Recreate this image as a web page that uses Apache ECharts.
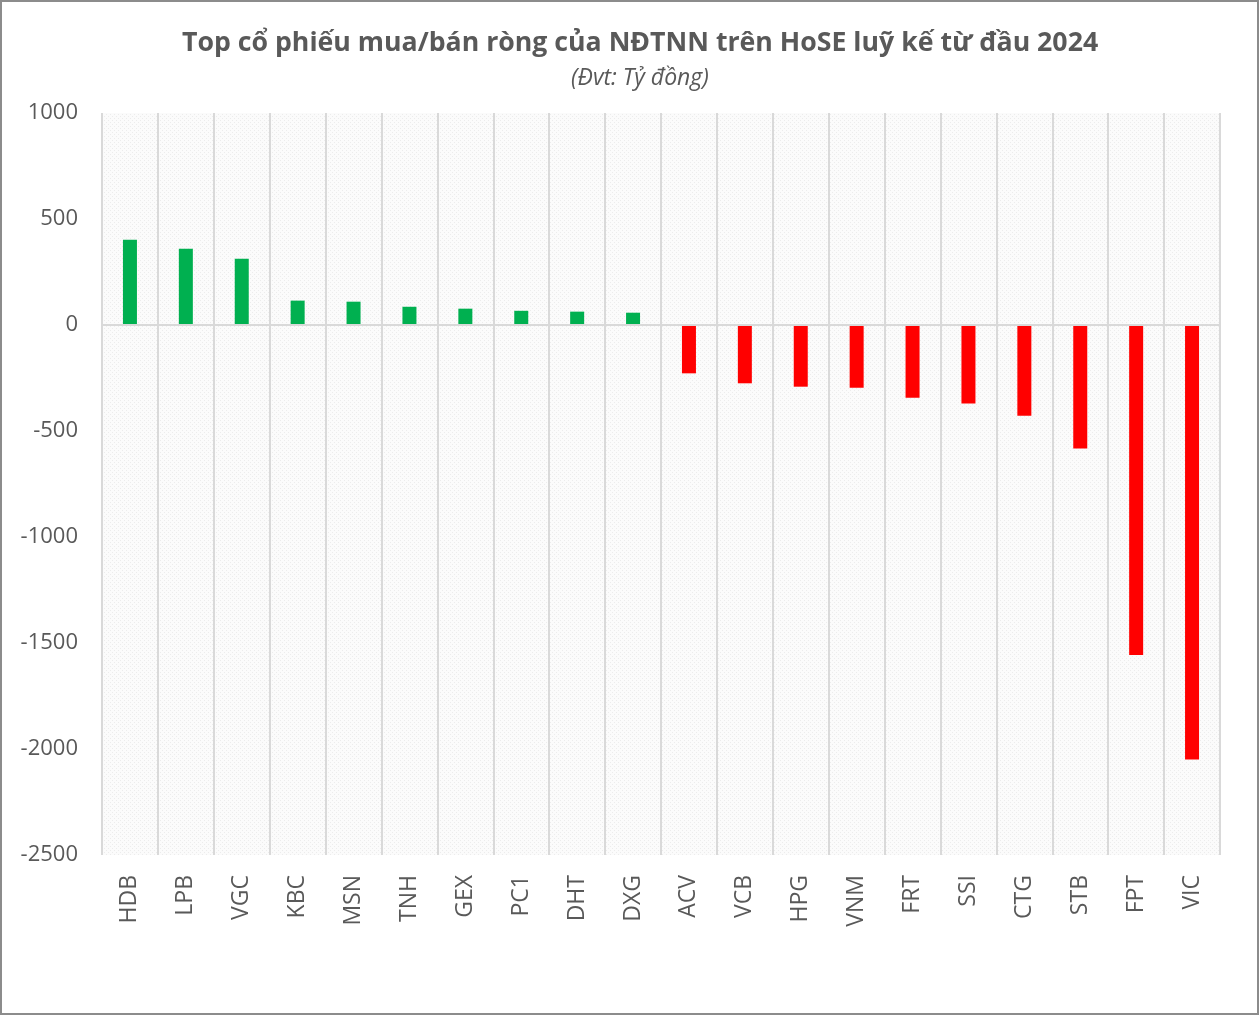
<!DOCTYPE html>
<html>
<head>
<meta charset="utf-8">
<script src="https://cdn.jsdelivr.net/npm/echarts@6/dist/echarts.min.js"></script>
<style>
  html, body { margin: 0; padding: 0; background: #fff; }
  #chart { width: 1260px; height: 1016px; }
</style>
</head>
<body>
<div id="chart"></div>
<script>
// stock tickers, net buy (+) / net sell (-) in billion VND
var tickers = ['HDB', 'LPB', 'VGC', 'KBC', 'MSN', 'TNH', 'GEX', 'PC1', 'DHT', 'DXG',
               'ACV', 'VCB', 'HPG', 'VNM', 'FRT', 'SSI', 'CTG', 'STB', 'FPT', 'VIC'];
var netValues = [402, 360, 313, 115, 110, 86, 77, 67, 63, 58,
                 -228, -275, -291, -296, -343, -370, -428, -582, -1557, -2049];
var yTicks = { min: -2500, max: 1000, step: 500 };

var titleText = 'Top cổ phiếu mua/bán ròng của NĐTNN trên HoSE luỹ kế từ đầu 2024';
var subText = '(Đvt: Tỷ đồng)';

//light dotted fill like the excel plot area
var pat = document.createElement('canvas');
pat.width = 4; pat.height = 4;
var pc = pat.getContext('2d');
pc.fillStyle = '#fbfbfb';
pc.fillRect(0, 0, 4, 4);
pc.fillStyle = '#ececec';
pc.fillRect(0, 0, 1, 1);
pc.fillRect(2, 2, 1, 1);

var chart = echarts.init(document.getElementById('chart'));

var option = {
    backgroundColor: '#ffffff',
    animation: false,
    title: [{
        text: titleText,
        left: 177,
        top: 25,
        textStyle: {
            fontFamily: 'Open Sans',
            fontWeight: 'bold',
            fontSize: 26.7,
            color: '#595959'
        }
    }, {
        text: subText,
        left: 566,
        top: 62,
        textStyle: {
            fontFamily: 'Open Sans',
            fontStyle: 'italic',
            fontWeight: 'normal',
            fontSize: 23,
            color: '#595959'
        }
    }],
    grid: {
        left: 102,
        right: 40,
        top: 113,
        bottom: 161,
        show: true,
        borderWidth: 0,
        backgroundColor: { image: pat, repeat: 'repeat' }
    },
    xAxis: {
        type: 'category',
        data: tickers,
        position: 'bottom',
        axisLine: { show: false },
        axisTick: { show: false },
        splitLine: { show: true, interval: 0, lineStyle: { color: '#d9d9d9', width: 2 } },
        axisLabel: {
            interval: 0,
            rotate: 90,
            margin: 20,
            fontFamily: 'Open Sans',
            fontSize: 23,
            color: '#595959'
        }
    },
    yAxis: {
        type: 'value',
        min: yTicks.min,
        max: yTicks.max,
        interval: yTicks.step,
        axisLine: { show: false },
        axisTick: { show: false },
        splitLine: { show: false },
        axisLabel: {
            margin: 24,
            fontFamily: 'Open Sans',
            fontSize: 22,
            color: '#595959',
            formatter: function (v) { return String(v); }
        }
    },
    series: [{
        type: 'bar',
        data: netValues.map(function (v) {
            return { value: v, itemStyle: { color: v >= 0 ? '#00b050' : '#ff0000' } };
        }),
        barWidth: 14,
        markLine: {
            silent: true,
            symbol: 'none',
            label: { show: false },
            lineStyle: { color: '#d9d9d9', width: 2, type: 'solid' },
            data: [{ yAxis: 0 }]
        }
    }],
    graphic: [{
        type: 'rect',
        shape: { x: 1, y: 1, width: 1257, height: 1013 },
        style: { fill: 'none', stroke: '#8c8c8c', lineWidth: 2 },
        silent: true
    }]
};

chart.setOption(option);
</script>
</body>
</html>
